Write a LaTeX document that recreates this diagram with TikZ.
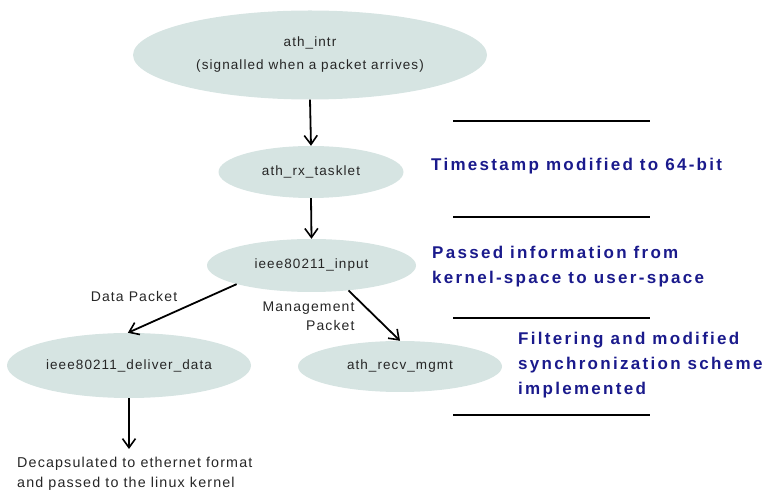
\documentclass[tikz,border=0pt]{standalone}
\usepackage{fontspec}
\setmainfont{Liberation Sans}
\newfontfamily\nodefont[LetterSpace=8]{Liberation Sans}
\newfontfamily\notefont[LetterSpace=13.5]{Liberation Sans}
\usetikzlibrary{calc,shapes.geometric,arrows.meta}
\definecolor{bubble}{RGB}{214,228,226}
\definecolor{notecol}{RGB}{26,26,140}
\tikzset{
  bubble/.style={ellipse,fill=bubble,inner sep=0pt,text=black!85,font=\nodefont\fontsize{13.5}{23}\selectfont,align=center},
  flow/.style={-{Straight Barb[length=9pt,width=13pt,line width=1.6pt]},line width=1.8pt},
  lbl/.style={text=black!85,font=\nodefont\fontsize{14}{19}\selectfont},
  note/.style={font=\notefont\bfseries\fontsize{17}{25}\selectfont,text=notecol,align=left,anchor=west,inner sep=0pt},
}

\begin{document}
\begin{tikzpicture}[x=1pt,y=1pt]
				%%%%% START %%%%%
				\def\lineL{453}
				\def\lineR{650}
				\useasboundingbox (0,0) rectangle (764,490);

				\node[bubble,minimum width=354pt,minimum height=89pt] (intr) at (310,435) {ath\_intr\\(signalled when a packet arrives)};
				\node[bubble,minimum width=185pt,minimum height=52pt] (tasklet) at (311,318) {ath\_rx\_tasklet};
				\node[bubble,minimum width=209pt,minimum height=53pt] (input) at (311.5,224.5) {ieee80211\_input};
				\node[bubble,minimum width=244pt,minimum height=65pt] (deliver) at (129,124.5) {ieee80211\_deliver\_data};
				\node[bubble,minimum width=204pt,minimum height=51pt] (mgmt) at (400,123.5) {ath\_recv\_mgmt};

				\node[lbl,font=\nodefont\fontsize{14.3}{20}\selectfont,anchor=north west,align=left,inner sep=0pt] (decap) at (17,33) {Decapsulated to ethernet format\\and passed to the linux kernel};

				\draw[flow] (intr.south) -- (tasklet.north);
				\draw[flow] (tasklet.south) -- (input.north);
				\draw[flow] (input.194) -- (deliver.92);
				\draw[flow] (input.-34) -- (mgmt.north);
				\draw[flow,shorten >=8pt] (deliver.south) -- (deliver.south |- decap.north);

				\node[lbl] (data) at (134,194) {Data Packet};
				\node[lbl,align=right,anchor=east] (mgmtlbl) at (358,174) {Management\\Packet};

				\foreach \y in {369,273,172,75}
					\draw[line width=1.2pt] (\lineL,\y) -- (\lineR,\y);

				\node[note] (stamp) at (431,324) {Timestamp modified to 64-bit};
				\node[note] (passed) at (432,223.5) {Passed information from\\kernel-space to user-space};
				\node[note] (filter) at (518,125) {Filtering and modified\\synchronization scheme\\implemented};
				%%%%% START %%%%%
\end{tikzpicture}
\end{document}
